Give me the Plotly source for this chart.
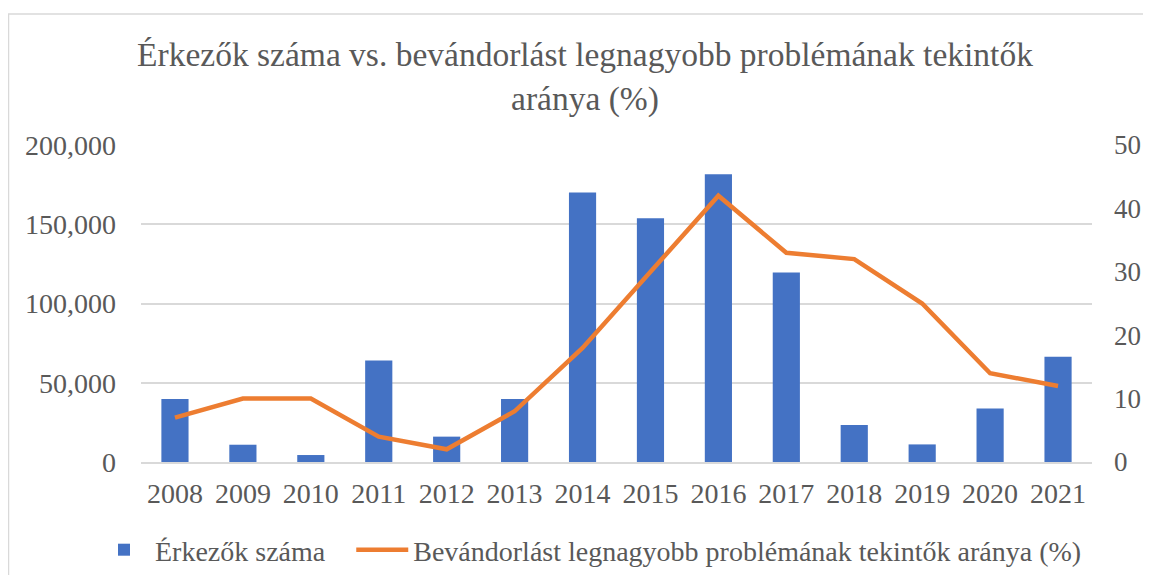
import plotly.graph_objects as go

years = ["2008", "2009", "2010", "2011", "2012", "2013", "2014",
         "2015", "2016", "2017", "2018", "2019", "2020", "2021"]
arrivals = [39700, 10900, 4400, 64100, 16000, 39700, 170000,
            153800, 181600, 119600, 23300, 11100, 33800, 66400]
share_pct = [7, 10, 10, 4, 2, 8, 18, 30, 42, 33, 32, 25, 14, 12]

bar_name = "Érkezők száma\u00a0\u00a0\u00a0"
line_name = "Bevándorlást legnagyobb problémának tekintők aránya (%)"
title_text = "Érkezők száma vs. bevándorlást legnagyobb problémának tekintők<br>aránya (%)"

FONT = "Liberation Serif, Times New Roman, serif"
GREY = "#595959"
GRID = "#d9d9d9"

fig = go.Figure()
fig.add_trace(go.Bar(x=years, y=arrivals, name=bar_name,
                     marker=dict(color="#4472C4", line=dict(width=0)),
                     yaxis="y"))
fig.add_trace(go.Scatter(x=years, y=share_pct, name=line_name, mode="lines",
                         line=dict(color="#ED7D31", width=4.5),
                         yaxis="y2"))

# figure sits at an 8px page offset (default body margin)
W, H = 1135, 567
L, R, T, B = 133, 51, 137, 113
pw, ph = W - L - R, H - T - B

fig.update_layout(
    width=W, height=H,
    margin=dict(l=L, r=R, t=T, b=B, autoexpand=False),
    paper_bgcolor="white", plot_bgcolor="white",
    font=dict(family=FONT, color=GREY, size=28),
    title=dict(text=title_text, x=(585 - 8) / W, xanchor="center", y=1 - 58 / H, yanchor="middle",
               font=dict(family=FONT, size=33.5, color=GREY)),
    bargap=0.6,
    showlegend=True,
    legend=dict(orientation="h", x=(85 - L) / pw, xanchor="left",
                y=(H - B - 542) / ph, yanchor="middle",
                font=dict(family=FONT, size=28, color=GREY),
                itemwidth=52, bgcolor="rgba(0,0,0,0)"),
    xaxis=dict(type="category", showgrid=False, showline=True, linecolor=GRID, linewidth=1.5,
               ticks="", ticklabelstandoff=6, tickfont=dict(size=28, color=GREY)),
    yaxis=dict(range=[0, 200000], dtick=50000, tickformat=",", showgrid=True,
               gridcolor=GRID, gridwidth=1.5, zeroline=False, showline=False,
               ticks="", ticklabelstandoff=24, tickfont=dict(size=28, color=GREY)),
    yaxis2=dict(range=[0, 50], dtick=10, overlaying="y", side="right", showgrid=False,
                zeroline=False, showline=False, ticks="", ticklabelstandoff=21,
                tickfont=dict(size=27, color=GREY)),
    shapes=[dict(type="rect", xref="paper", yref="paper",
                 x0=(0.5 - L) / pw, x1=(W + 20 - L) / pw,
                 y0=(H - B - (H + 20)) / ph, y1=(H - B - 6) / ph,
                 line=dict(color=GRID, width=1.5), fillcolor="rgba(0,0,0,0)", layer="below")],
)

fig.write_html("out.html")
